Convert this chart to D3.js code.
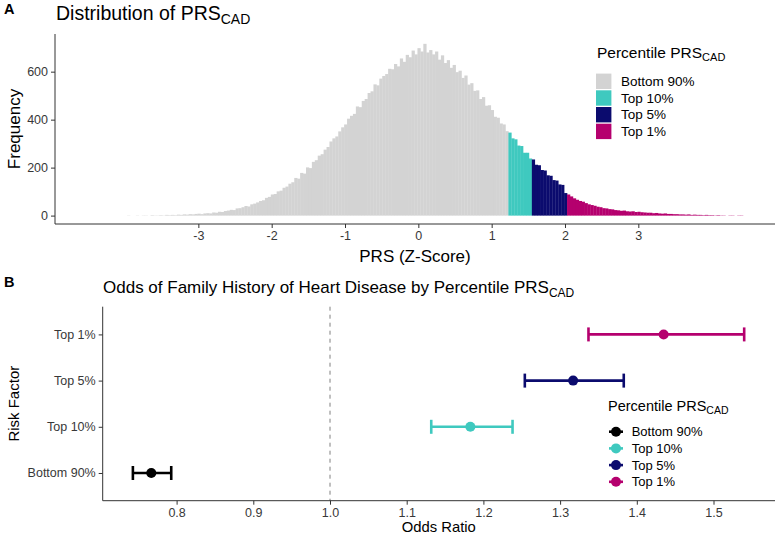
<!DOCTYPE html>
<html><head><meta charset="utf-8">
<script src="https://cdn.jsdelivr.net/npm/d3@7"></script>
<style>
html,body{margin:0;padding:0;background:#fff;}
text{font-family:"Liberation Sans",Arial,sans-serif;}
</style></head>
<body><svg id="c" width="777" height="537"></svg>
<script>
// ---------- Panel A data: histogram of PRS (Z-score) ----------
const binStart = -4.012;
const binWidth = 0.04;
const counts = [
0,1,0,0,1,0,1,1,0,2,1,1,2,1,3,2,3,2,4,3,5,4,6,5,7,
8,6,9,10,9,13,12,16,15,19,21,24,23,30,31,35,40,38,47,50,55,61,64,74,78,
88,90,101,104,116,121,133,139,157,154,178,175,201,198,224,231,250,256,275,286,309,322,330,351,368,
380,404,416,424,455,452,478,486,511,518,547,543,571,582,590,612,610,632,622,655,641,670,660,688,672,
698,684,716,680,690,672,684,650,668,636,648,616,628,598,604,574,584,546,552,520,522,486,494,458,460,
440,412,408,384,380,352,346,322,318,292,290,262,262,238,234,212,210,190,188,168,166,148,146,130,128,
94,88,80,72,66,61,58,52,47,44,41,37,35,31,30,27,26,23,22,20,21,18,17,18,15,
16,14,13,12,12,10,11,9,8,9,7,7,6,6,5,5,4,5,3,4,3,3,2,3,2,
2,1,2,1,1,0,1,1,0,1,1
];
const groupCutoffs = [1.22, 1.54, 2.02];
const groups = ["Bottom 90%", "Top 10%", "Top 5%", "Top 1%"];
const groupColors = ["#D3D3D3", "#3FC9BF", "#0B0B6E", "#B5006E"];
const xTicksA = [-3, -2, -1, 0, 1, 2, 3];
const yTicksA = [0, 200, 400, 600];

// ---------- Panel B data: odds ratios ----------
const riskFactors = ["Bottom 90%", "Top 10%", "Top 5%", "Top 1%"];
const oddsRatio = [0.767, 1.183, 1.317, 1.435];
const ciLow = [0.743, 1.132, 1.254, 1.337];
const ciHigh = [0.793, 1.238, 1.383, 1.540];
const pointColors = ["#000000", "#3FC9BF", "#0B0B6E", "#B5006E"];
const xTicksB = [0.8, 0.9, 1.0, 1.1, 1.2, 1.3, 1.4, 1.5];

const svg = d3.select("#c");
const axisCol = "#333333", tickTextCol = "#383838";

function subTitle(sel, main, sub, mainSize, subSize) {
  sel.append("tspan").text(main).attr("font-size", mainSize);
  sel.append("tspan").text(sub).attr("font-size", subSize).attr("dy", mainSize * 0.22);
}

// ================= PANEL A =================
const A = {l: 55, r: 775, t: 34, b: 224};
const xA = d3.scaleLinear().domain([-4.955, 4.864]).range([A.l, A.r]);
const yA = d3.scaleLinear().domain([-35, 757]).range([A.b, A.t]);
const colorA = d3.scaleThreshold().domain(groupCutoffs).range(groupColors);

const bins = counts.map((c, i) => ({x0: binStart + i * binWidth, x1: binStart + (i + 1) * binWidth, n: c}));
svg.append("g").selectAll("rect").data(bins.filter(d => d.n > 0)).join("rect")
  .attr("x", d => xA(d.x0))
  .attr("width", d => xA(d.x1) - xA(d.x0) + 0.3)
  .attr("y", d => yA(d.n))
  .attr("height", d => yA(0) - yA(d.n))
  .attr("fill", d => colorA((d.x0 + d.x1) / 2));

const gxA = svg.append("g").attr("transform", `translate(0,${A.b})`)
  .call(d3.axisBottom(xA).tickValues(xTicksA).tickSize(4).tickPadding(3).tickFormat(d3.format("d")));
const gyA = svg.append("g").attr("transform", `translate(${A.l},0)`)
  .call(d3.axisLeft(yA).tickValues(yTicksA).tickSize(4).tickPadding(3));
[gxA, gyA].forEach(g => {
  g.select(".domain").remove();
  g.selectAll(".tick line").attr("stroke", axisCol);
  g.selectAll(".tick text").attr("fill", tickTextCol).attr("font-size", 12.5)
    .attr("font-family", '"Liberation Sans",Arial,sans-serif');
});
gxA.selectAll(".tick text").text(d => d < 0 ? "-" + Math.abs(d) : d);
svg.append("line").attr("x1", A.l).attr("x2", A.l).attr("y1", A.t).attr("y2", A.b).attr("stroke", axisCol);
svg.append("line").attr("x1", A.l).attr("x2", A.r).attr("y1", A.b).attr("y2", A.b).attr("stroke", axisCol);

svg.append("text").attr("x", (A.l + A.r) / 2).attr("y", 262).attr("text-anchor", "middle")
  .attr("font-size", 17).text("PRS (Z-Score)");
svg.append("text").attr("transform", `translate(20,${(A.t + A.b) / 2}) rotate(-90)`)
  .attr("text-anchor", "middle").attr("font-size", 17).text("Frequency");

svg.append("text").attr("x", 4).attr("y", 14).attr("font-size", 14.5).attr("font-weight", "bold").text("A");
subTitle(svg.append("text").attr("x", 56).attr("y", 20), "Distribution of PRS", "CAD", 19.5, 14);

// legend A
const legA = svg.append("g");
subTitle(legA.append("text").attr("x", 597).attr("y", 58), "Percentile PRS", "CAD", 15.5, 11);
groups.forEach((g, i) => {
  const cy = 81.3 + i * 16.7;
  legA.append("rect").attr("x", 596).attr("y", cy - 7.7).attr("width", 15.4).attr("height", 15.4).attr("fill", groupColors[i]);
  legA.append("text").attr("x", 621).attr("y", cy + 4.6).attr("font-size", 13.5).text(g);
});

// ================= PANEL B =================
const B = {l: 102.7, r: 775, t: 306.7, b: 500.7};
const xB = d3.scaleLinear().domain([1.0 - (330 - B.l) / 767, 1.0 + (B.r - 330) / 767]).range([B.l, B.r]);
const yB = d3.scalePoint().domain(riskFactors.slice().reverse()).range([B.t, B.b]).padding(0.6);

svg.append("line").attr("x1", xB(1)).attr("x2", xB(1)).attr("y1", B.t).attr("y2", B.b)
  .attr("stroke", "#808080").attr("stroke-dasharray", "4,4").attr("stroke-width", 1);

const rows = riskFactors.map((r, i) => ({r, or: oddsRatio[i], lo: ciLow[i], hi: ciHigh[i], c: pointColors[i]}));
const eb = svg.append("g").selectAll("g").data(rows).join("g");
eb.append("line").attr("x1", d => xB(d.lo)).attr("x2", d => xB(d.hi))
  .attr("y1", d => yB(d.r)).attr("y2", d => yB(d.r)).attr("stroke", d => d.c).attr("stroke-width", 2.6);
eb.append("line").attr("x1", d => xB(d.lo)).attr("x2", d => xB(d.lo))
  .attr("y1", d => yB(d.r) - 7).attr("y2", d => yB(d.r) + 7).attr("stroke", d => d.c).attr("stroke-width", 2.6);
eb.append("line").attr("x1", d => xB(d.hi)).attr("x2", d => xB(d.hi))
  .attr("y1", d => yB(d.r) - 7).attr("y2", d => yB(d.r) + 7).attr("stroke", d => d.c).attr("stroke-width", 2.6);
eb.append("circle").attr("cx", d => xB(d.or)).attr("cy", d => yB(d.r)).attr("r", 5).attr("fill", d => d.c);

const gxB = svg.append("g").attr("transform", `translate(0,${B.b})`)
  .call(d3.axisBottom(xB).tickValues(xTicksB).tickSize(4).tickPadding(3).tickFormat(d3.format(".1f")));
const gyB = svg.append("g").attr("transform", `translate(${B.l},0)`)
  .call(d3.axisLeft(yB).tickSize(4).tickPadding(3));
[gxB, gyB].forEach(g => {
  g.select(".domain").remove();
  g.selectAll(".tick line").attr("stroke", axisCol);
  g.selectAll(".tick text").attr("fill", tickTextCol).attr("font-size", 12.5)
    .attr("font-family", '"Liberation Sans",Arial,sans-serif');
});
svg.append("line").attr("x1", B.l).attr("x2", B.l).attr("y1", B.t).attr("y2", B.b).attr("stroke", axisCol);
svg.append("line").attr("x1", B.l).attr("x2", B.r).attr("y1", B.b).attr("y2", B.b).attr("stroke", axisCol);

svg.append("text").attr("x", (B.l + B.r) / 2).attr("y", 532).attr("text-anchor", "middle")
  .attr("font-size", 14.8).text("Odds Ratio");
svg.append("text").attr("transform", `translate(19,${(B.t + B.b) / 2}) rotate(-90)`)
  .attr("text-anchor", "middle").attr("font-size", 15).text("Risk Factor");

svg.append("text").attr("x", 4).attr("y", 287).attr("font-size", 14.5).attr("font-weight", "bold").text("B");
subTitle(svg.append("text").attr("x", 103).attr("y", 293), "Odds of Family History of Heart Disease by Percentile PRS", "CAD", 17, 12);

// legend B
const legB = svg.append("g");
subTitle(legB.append("text").attr("x", 608).attr("y", 411), "Percentile PRS", "CAD", 14.5, 10.5);
riskFactors.forEach((g, i) => {
  const cy = 431.7 + i * 16.7;
  legB.append("line").attr("x1", 609).attr("x2", 623).attr("y1", cy).attr("y2", cy)
    .attr("stroke", pointColors[i]).attr("stroke-width", 2.6);
  legB.append("circle").attr("cx", 616).attr("cy", cy).attr("r", 5).attr("fill", pointColors[i]);
  legB.append("text").attr("x", 631.7).attr("y", cy + 4.5).attr("font-size", 13).text(g);
});
</script></body></html>
